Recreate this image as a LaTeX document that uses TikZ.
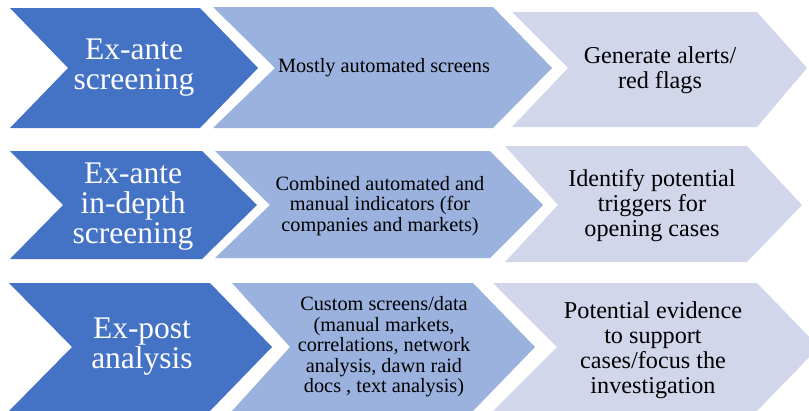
\documentclass[tikz,border=0pt]{standalone}
\usepackage{fontspec}
\setmainfont{Liberation Serif}
\definecolor{darkblue}{HTML}{4472C4}
\definecolor{midblue}{HTML}{9BB1DE}
\definecolor{paleblue}{HTML}{D1D6EB}
\tikzset{
  headtext/.style={text=white, align=center, inner sep=0pt,
    font=\fontsize{31.5bp}{30bp}\selectfont},
  bodytext/.style={text=black, align=center, inner sep=0pt,
    font=\fontsize{20.3bp}{20.5bp}\selectfont},
  resulttext/.style={text=black, align=center, inner sep=0pt,
    font=\fontsize{24.2bp}{25bp}\selectfont}
}
\begin{document}
\begin{tikzpicture}[x=1bp, y=-1bp]
  \useasboundingbox (0,0) rectangle (809,410);
  \clip (0,0) rectangle (809,410);

  % Row 1: ex-ante screening
  \fill [darkblue] (10,8) -- (200,8) -- (258,68) -- (200,128) -- (10,128) -- (68,68) -- cycle;
  \fill [midblue] (213,7) -- (493,7) -- (552,68) -- (493,128) -- (213,128) -- (275,68) -- cycle;
  \fill [paleblue] (512,12) -- (757,12) -- (807,68) -- (757,127) -- (512,127) -- (568,68) -- cycle;
  \node [headtext] (exante) at (134,68) {Ex-ante\\screening};
  \node [bodytext] (mostly) at (384,68) {Mostly automated screens};
  \node [resulttext] (alerts) at (660,70) {Generate alerts/\\red flags};

  % Row 2: ex-ante in-depth screening
  \fill [darkblue] (10,151) -- (202,151) -- (257,205) -- (202,259) -- (10,259) -- (63,205) -- cycle;
  \fill [midblue] (215,151) -- (490,151) -- (543,205) -- (490,258) -- (215,258) -- (270,205) -- cycle;
  \fill [paleblue] (505,146) -- (747,146) -- (802,205) -- (747,262) -- (505,262) -- (558,205) -- cycle;
  \node [headtext] (indepth) at (133,207) {Ex-ante\\in-depth\\screening};
  \node [bodytext] (combined) at (380,206) {Combined automated and\\manual indicators (for\\companies and markets)};
  \node [resulttext] (triggers) at (652,206) {Identify potential\\triggers for\\opening cases};

  % Row 3: ex-post analysis
  \fill [darkblue] (9,283) -- (210,283) -- (272,347) -- (210,411) -- (9,411) -- (72,347) -- cycle;
  \fill [midblue] (232,283) -- (473,283) -- (535,347) -- (473,411) -- (232,411) -- (290,347) -- cycle;
  \fill [paleblue] (493,283) -- (757,283) -- (819,347) -- (757,411) -- (493,411) -- (557,347) -- cycle;
  \node [headtext] (expost) at (142,347) {Ex-post\\analysis};
  \node [bodytext] (custom) at (384,347) {Custom screens/data\\(manual markets,\\correlations, network\\analysis, dawn raid\\docs , text analysis)};
  \node [resulttext] (evidence) at (653,350) {Potential evidence\\to support\\cases/focus the\\investigation};
\end{tikzpicture}
\end{document}
